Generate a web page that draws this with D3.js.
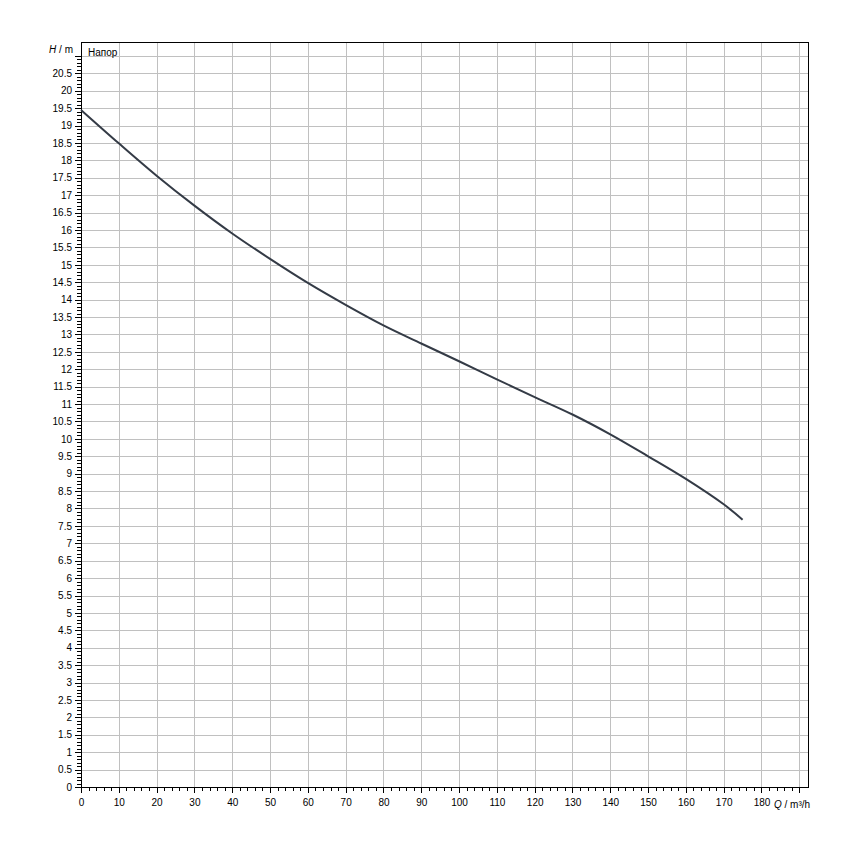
<!DOCTYPE html>
<html><head><meta charset="utf-8">
<script src="https://cdn.jsdelivr.net/npm/d3@7"></script>
<style>body{margin:0;background:#fff}svg{display:block}text{font-family:"Liberation Sans",Arial,sans-serif}</style>
</head><body>
<script>
const flowQ = [0,10,20,30,40,50,60,70,80,90,100,110,120,130,140,150,160,170,175];
const headH = [19.45,18.49,17.56,16.70,15.90,15.17,14.48,13.85,13.26,12.74,12.23,11.71,11.20,10.70,10.13,9.50,8.85,8.12,7.68];
const xTickValues = d3.range(0, 190, 10);
const yTickValues = d3.range(0, 20.51, 0.5);
const curveLabel = "Напор";

const W = 850, H = 850;
const L = 81, T = 42, R = 808, B = 787;
const svg = d3.select("body").append("svg").attr("width", W).attr("height", H);
const x = d3.scaleLinear().domain([0, 192.3]).range([L, R]);
const y = d3.scaleLinear().domain([0, 21.4]).range([B, T]);

// grid
const g = svg.append("g").attr("stroke", "#c0c0c0").attr("stroke-width", 1).attr("shape-rendering", "crispEdges");
d3.range(10, 191, 10).forEach(v => g.append("line").attr("x1", Math.round(x(v)) + 0.5).attr("x2", Math.round(x(v)) + 0.5).attr("y1", T).attr("y2", B));
d3.range(0.5, 21.01, 0.5).forEach(v => g.append("line").attr("y1", Math.round(y(v)) + 0.5).attr("y2", Math.round(y(v)) + 0.5).attr("x1", L).attr("x2", R));

// ticks
const mt = svg.append("g").attr("stroke", "#000").attr("stroke-width", 1).attr("shape-rendering", "crispEdges");
d3.range(0, 191, 2).forEach(v => {
  const major = v % 10 === 0;
  const px = Math.round(x(v)) + 0.5;
  mt.append("line").attr("x1", px).attr("x2", px).attr("y1", B).attr("y2", B + (major ? 6 : 4));
});
d3.range(0, 211).forEach(i => {
  const v = i / 10;
  const major = i % 5 === 0;
  const py = Math.round(y(v)) + 0.5;
  mt.append("line").attr("y1", py).attr("y2", py).attr("x1", L).attr("x2", L - (major ? 6 : 4));
});

// axes labels via d3 axis
const xAxis = d3.axisBottom(x).tickValues(xTickValues).tickSize(0).tickPadding(12).tickFormat(d3.format("d"));
const xa = svg.append("g").attr("transform", `translate(0,${B})`).call(xAxis);
xa.select(".domain").remove();
xa.selectAll("text").attr("font-size", 10).attr("fill", "#000").attr("font-family", '"Liberation Sans",Arial,sans-serif');

const yAxis = d3.axisLeft(y).tickValues(yTickValues).tickSize(0).tickPadding(9).tickFormat(d => d3.format("")(d));
const ya = svg.append("g").attr("transform", `translate(${L},0)`).call(yAxis);
ya.select(".domain").remove();
ya.selectAll("text").attr("font-size", 10).attr("fill", "#000").attr("font-family", '"Liberation Sans",Arial,sans-serif');

// axis titles
const yt = svg.append("text").attr("x", 73).attr("y", y(21) - 3).attr("text-anchor", "end").attr("font-size", 10).attr("fill", "#000");
yt.append("tspan").attr("font-style", "italic").text("H");
yt.append("tspan").text(" / m");
const xt = svg.append("text").attr("x", 774).attr("y", B + 21).attr("text-anchor", "start").attr("font-size", 10).attr("fill", "#000");
xt.append("tspan").attr("font-style", "italic").text("Q");
xt.append("tspan").text(" / m³/h");

// frame
svg.append("rect").attr("x", L + 0.5).attr("y", T + 0.5).attr("width", R - L).attr("height", B - T)
  .attr("fill", "none").attr("stroke", "#000").attr("stroke-width", 1).attr("shape-rendering", "crispEdges");

// curve
const line = d3.line().x((d, i) => x(flowQ[i])).y(d => y(d)).curve(d3.curveCatmullRom);
svg.append("path").datum(headH).attr("d", line).attr("fill", "none").attr("stroke", "#343b46").attr("stroke-width", 2);

svg.append("text").attr("x", 88).attr("y", 56).attr("font-size", 10).attr("fill", "#000").text(curveLabel);
</script>
</body></html>
